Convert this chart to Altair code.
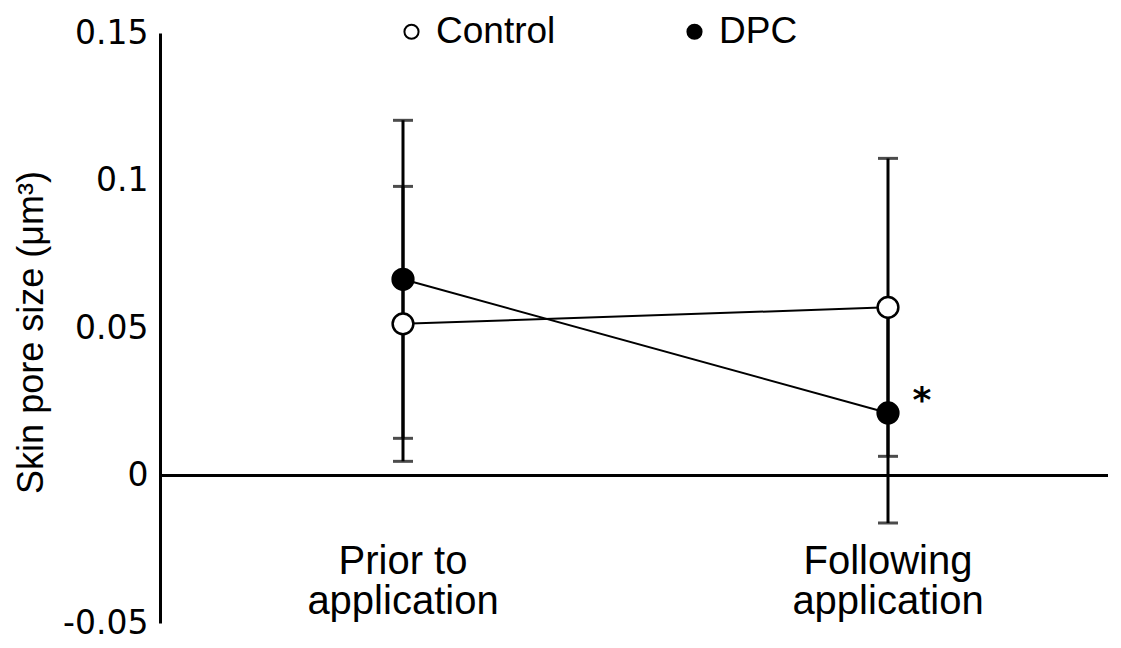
import altair as alt
import pandas as pd

# ---- data ----
phases = ["Prior to application", "Following application"]
phase_labels = ["Prior to\napplication", "Following\napplication"]
groups = ["Control", "DPC"]
control_mean = [0.0514, 0.0570]
control_err = [0.0466, 0.0505]
dpc_mean = [0.0665, 0.0212]
dpc_err = [0.0539, 0.0373]
y_ticks = [-0.05, 0, 0.05, 0.1, 0.15]
sig_marks = ["", "*"]  # DPC significance per phase

rows = []
for g, means, errs in [("Control", control_mean, control_err), ("DPC", dpc_mean, dpc_err)]:
    for p, m, e in zip(phases, means, errs):
        rows.append({"phase": p, "group": g, "mean": m, "lo": m - e, "hi": m + e})
df = pd.DataFrame(rows)
sig_df = pd.DataFrame({"phase": phases, "mean": dpc_mean, "sig": sig_marks})
lab_df = pd.DataFrame({"phase": phases, "label": phase_labels})

FONT = "Liberation Sans"
TICKFONT = "DejaVu Sans"

x_enc = alt.X("phase:N", sort=phases,
              scale=alt.Scale(type="point", domain=phases, range=[243, 728], padding=0),
              axis=None)
y_scale = alt.Scale(domain=[-0.05, 0.15], nice=False, zero=False)

base = alt.Chart(df)

zero = alt.Chart(df).mark_rule(color="black", strokeWidth=3).encode(y=alt.datum(0, scale=y_scale))

bars = base.mark_rule(color="black", strokeWidth=3).encode(
    x=x_enc,
    y=alt.Y("lo:Q", scale=y_scale,
            axis=alt.Axis(values=y_ticks, labelExpr="toString(datum.value)",
                          ticks=False, grid=False, domainColor="black", domainWidth=3,
                          labelFont=TICKFONT, labelFontSize=33, labelColor="black",
                          labelPadding=12,
                          title="Skin pore size (μm³)", titleFont=FONT, titleFontSize=36,
                          titleFontWeight="normal", titleColor="black",
                          titleX=-118, titleY=299, titleAngle=-90,
                          titleBaseline="alphabetic", titleAlign="center")),
    y2="hi:Q",
)
cap_lo = base.mark_tick(color="black", thickness=3, size=20, orient="horizontal").encode(
    x=x_enc, y=alt.Y("lo:Q", scale=y_scale))
cap_hi = base.mark_tick(color="black", thickness=3, size=20, orient="horizontal").encode(
    x=x_enc, y=alt.Y("hi:Q", scale=y_scale))

lines = base.mark_line(color="black", strokeWidth=2).encode(
    x=x_enc, y=alt.Y("mean:Q", scale=y_scale), detail="group:N")

points = base.mark_point(filled=True, size=430, stroke="black", strokeWidth=2.5, opacity=1).encode(
    x=x_enc,
    y=alt.Y("mean:Q", scale=y_scale),
    fill=alt.Fill("group:N",
                  scale=alt.Scale(domain=groups, range=["white", "black"]),
                  legend=alt.Legend(title=None, orient="none", legendX=233, legendY=-20,
                                    direction="horizontal", symbolType="circle",
                                    symbolSize=200, symbolStrokeColor="black",
                                    symbolStrokeWidth=2, symbolOpacity=1,
                                    labelFont=FONT, labelFontSize=37, labelColor="black",
                                    labelOffset=6, columnPadding=120, padding=0)),
)

sig = alt.Chart(sig_df).mark_text(font=TICKFONT, fontSize=36, fontWeight="bold", color="black",
                                  align="center", baseline="alphabetic", dx=34, dy=-1).encode(
    x=x_enc, y=alt.Y("mean:Q", scale=y_scale), text="sig:N")

xlabels = alt.Chart(lab_df).mark_text(font=FONT, fontSize=40, color="black", align="center",
                                      baseline="alphabetic", lineBreak="\n", lineHeight=40).encode(
    x=x_enc, y=alt.value(541), text="label:N")

chart = alt.layer(zero, bars, cap_lo, cap_hi, lines, points, sig, xlabels).properties(
    width=948, height=590,
    autosize=alt.AutoSizeParams(type="none"),
    padding={"left": 152, "top": 25, "right": 5, "bottom": 17},
).configure(background="white").configure_view(strokeWidth=0)

chart.save("out.html", embed_options={"renderer": "svg", "actions": False})
